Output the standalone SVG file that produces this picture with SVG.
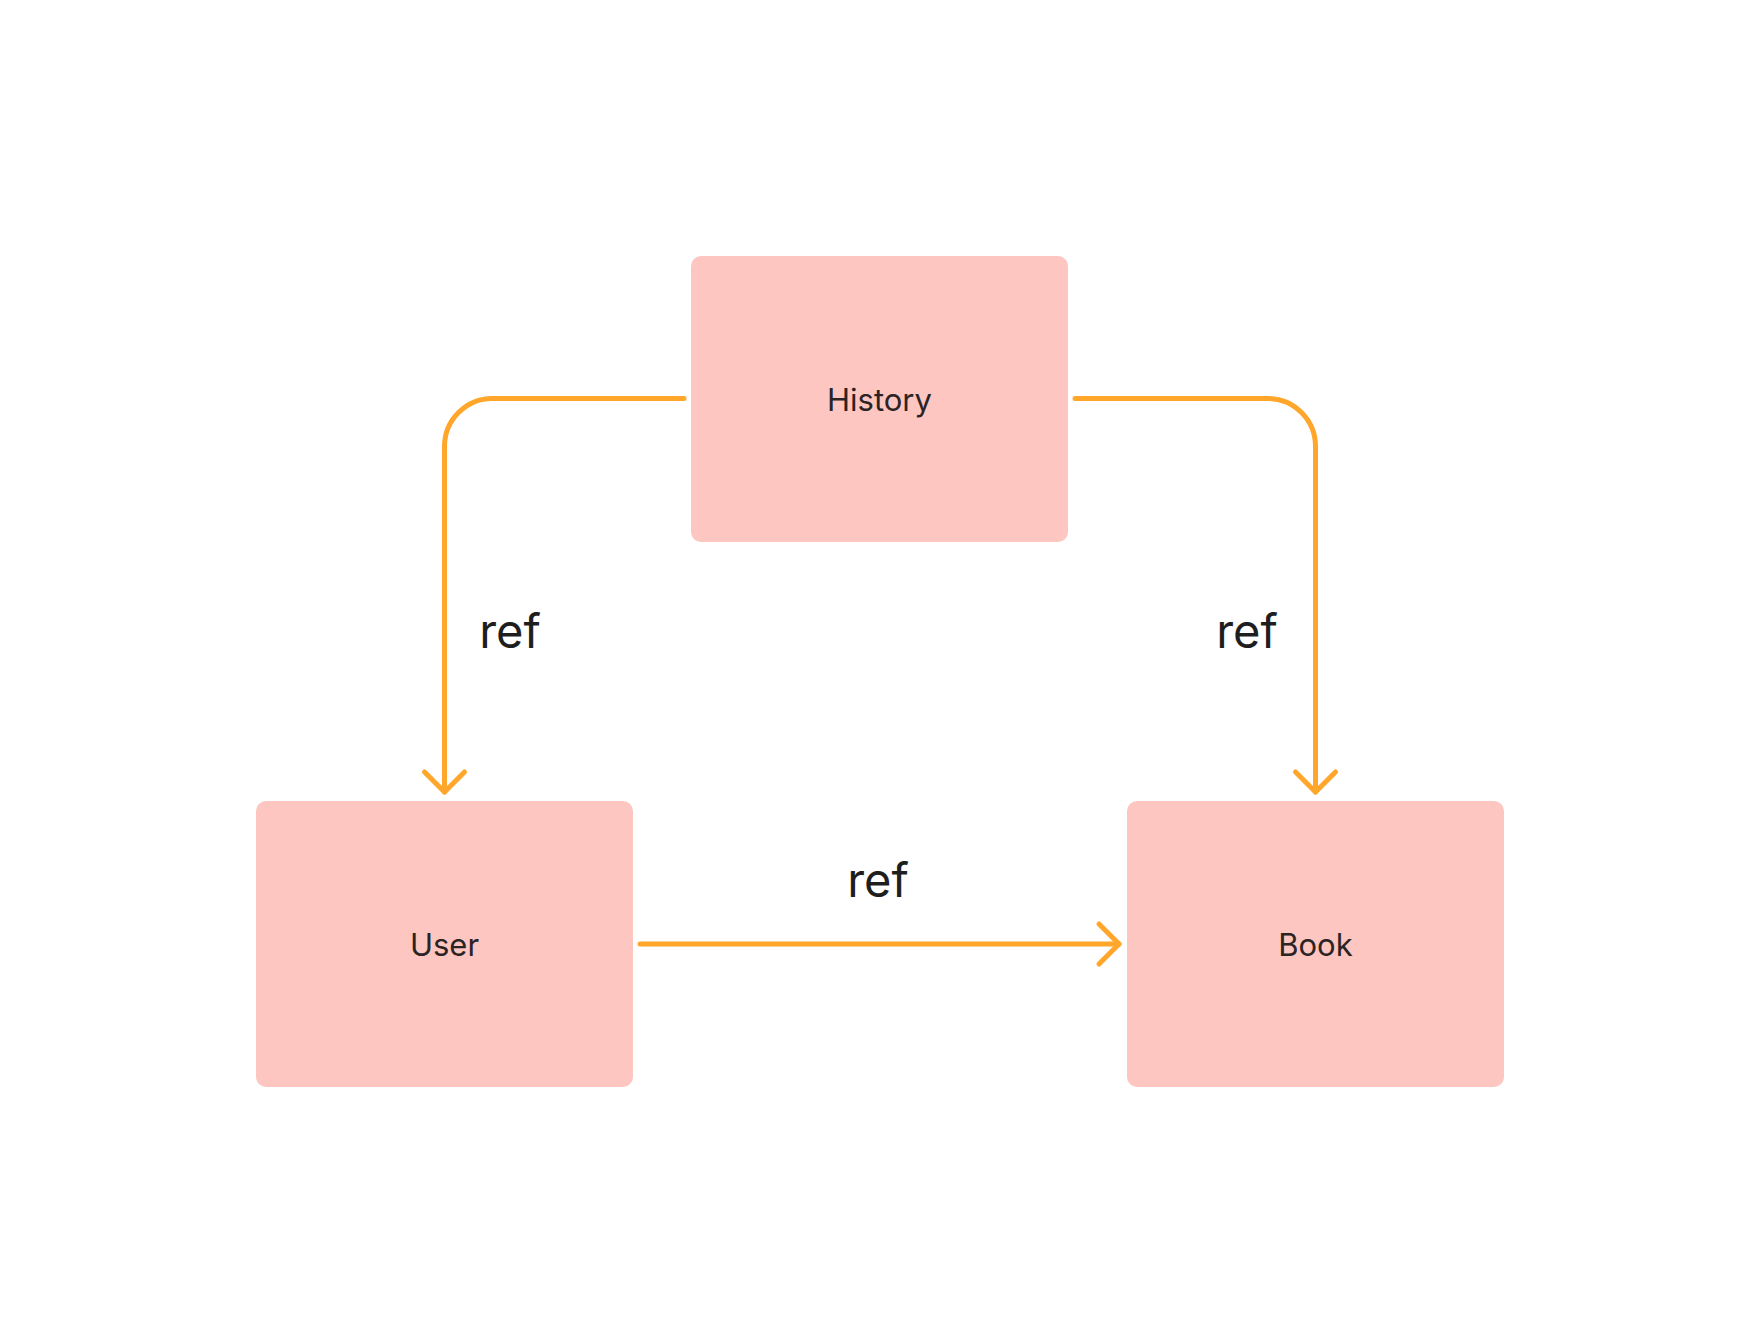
<svg xmlns="http://www.w3.org/2000/svg" width="1760" height="1344" viewBox="0 0 1760 1344">
  <style>
    .node rect { fill: #FDC6C1; }
    .node text { font-family: Inter, "Liberation Sans", sans-serif; font-size: 31px; fill: #2B2424; text-anchor: middle; }
    .edge { fill: none; stroke: #FFA62B; stroke-width: 5; stroke-linecap: round; stroke-linejoin: round; }
    .label { font-family: Inter, "Liberation Sans", sans-serif; font-size: 47px; fill: #1E1E1E; text-anchor: middle; }
  </style>
  <defs>
    <marker id="arrow" markerUnits="userSpaceOnUse" markerWidth="50" markerHeight="50" viewBox="-25 -25 50 50" refX="0" refY="0" orient="auto" overflow="visible">
      <path d="M -20 -20 L 0 0 L -20 20" fill="none" stroke="#FFA62B" stroke-width="5" stroke-linecap="round" stroke-linejoin="round"/>
    </marker>
  </defs>
  <rect width="1760" height="1344" fill="#FFFFFF"/>

  <!-- connectors -->
  <g id="connectors">
    <path class="edge" d="M 684 398.5 H 492.5 A 48 48 0 0 0 444.5 446.5 V 792" marker-end="url(#arrow)"/>
    <path class="edge" d="M 1075 398.5 H 1267.5 A 48 48 0 0 1 1315.5 446.5 V 792" marker-end="url(#arrow)"/>
    <path class="edge" d="M 640 944 H 1119" marker-end="url(#arrow)"/>
    <text class="label" x="510" y="648">ref</text>
    <text class="label" x="1247" y="648">ref</text>
    <text class="label" x="878" y="897">ref</text>
  </g>

  <!-- nodes -->
  <g id="history" class="node">
    <rect x="691" y="256" width="377" height="286" rx="10"/>
    <text x="879.5" y="411">History</text>
  </g>
  <g id="user" class="node">
    <rect x="256" y="801" width="377" height="286" rx="10"/>
    <text x="444.5" y="956">User</text>
  </g>
  <g id="book" class="node">
    <rect x="1127" y="801" width="377" height="286" rx="10"/>
    <text x="1315.5" y="956">Book</text>
  </g>
</svg>
